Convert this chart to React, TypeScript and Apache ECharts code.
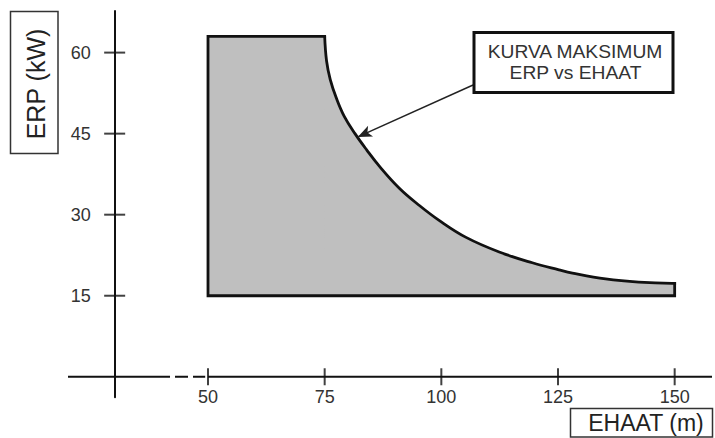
import { useEffect, useRef } from "react";
import * as echarts from "echarts";

// Axis ticks
const xTicks = [50, 75, 100, 125, 150];
const yTicks = [15, 30, 45, 60];

// Permitted region: flat shelf 50–75 m at 63 kW, then the maximum curve, floor at 15 kW
const shelfEhaat = [50, 75];
const shelfErp = 63;
const floorErp = 15;
const curveEhaat = [75, 75.4, 76.2, 77.5, 79.2, 81.5, 84, 86.8, 91, 95.3, 99.6, 105.3, 112.4, 119.5, 125.2, 128.1, 135.2, 142.3, 149.4, 150];
const curveErp = [63, 58.5, 55.0, 51.6, 48.2, 45.0, 42.0, 38.9, 34.9, 31.7, 28.9, 25.8, 23.1, 21.1, 19.8, 19.2, 18.1, 17.5, 17.3, 17.3];

// Axis extents and crossing
const xRange = [20, 158];
const yRange = [-3.8, 67.7];
const yAxisCross = 30; // y axis drawn at EHAAT = 30
const xAxisCross = 0; // x axis drawn at ERP = 0
const xBreakSolidEnd = 41.86;
const xBreakDash = [42.93, 49.4];

// Callout arrow: from box corner to curve
const arrowFrom = [106.8, 54.0];
const arrowTo = [82.1, 44.4];

const W = 715;
const H = 438;
const gridLeft = 68;
const gridRight = 3;
const gridTop = 11;
const gridBottom = 40.7;

const FONT = "'Liberation Sans', Arial, Helvetica, sans-serif";
const FILL = "#bfbfbf";
const EDGE = "#111";
const EDGE_W = 2.8;

export default function App() {
  const ref = useRef<HTMLDivElement>(null);

  useEffect(() => {
    if (!ref.current) return;
    const chart = echarts.init(ref.current, undefined, { renderer: "svg" });

    const pxPerX = (W - gridLeft - gridRight) / (xRange[1] - xRange[0]);
    const pxPerY = (H - gridTop - gridBottom) / (yRange[1] - yRange[0]);
    const yOffset = -(yAxisCross - xRange[0]) * pxPerX;
    const xOffset = -(xAxisCross - yRange[0]) * pxPerY;

    const lastCurve = curveEhaat.length - 1;
    const fillPts = [
      [shelfEhaat[0], floorErp],
      [shelfEhaat[0], shelfErp],
      [shelfEhaat[1], shelfErp],
      [curveEhaat[1], curveErp[1]],
      [curveEhaat[1], floorErp],
    ];
    const outlinePts = [
      [shelfEhaat[1], shelfErp],
      [shelfEhaat[0], shelfErp],
      [shelfEhaat[0], floorErp],
      [curveEhaat[lastCurve], floorErp],
      [curveEhaat[lastCurve], curveErp[lastCurve]],
    ];

    const axisColor = "#111";

    chart.setOption({
      animation: false,
      backgroundColor: "#ffffff",
      grid: { left: gridLeft, right: gridRight, top: gridTop, bottom: gridBottom },
      xAxis: {
        type: "value",
        min: xRange[0],
        max: xRange[1],
        position: "bottom",
        offset: xOffset,
        axisLine: { show: false, onZero: false },
        axisTick: { show: false },
        splitLine: { show: false },
        axisLabel: {
          customValues: xTicks,
          margin: 11,
          fontSize: 18,
          fontFamily: FONT,
          color: "#333",
        },
      },
      yAxis: {
        type: "value",
        min: yRange[0],
        max: yRange[1],
        position: "left",
        offset: yOffset,
        axisLine: { show: true, onZero: false, lineStyle: { color: axisColor, width: 2 } },
        axisTick: { show: false },
        splitLine: { show: false },
        axisLabel: {
          customValues: yTicks,
          margin: 24,
          fontSize: 18,
          fontFamily: FONT,
          color: "#333",
        },
      },
      series: [
        {
          type: "custom",
          name: "shelf-fill",
          data: [[shelfEhaat[0], shelfErp]],
          z: 1,
          silent: true,
          renderItem: (_p: any, api: any) => ({
            type: "polygon",
            shape: { points: fillPts.map((p) => api.coord(p)) },
            style: { fill: FILL },
          }),
        },
        {
          type: "line",
          name: "curve",
          data: curveEhaat.map((x, i) => [x, curveErp[i]]),
          smooth: 0.4,
          symbol: "none",
          z: 2,
          silent: true,
          lineStyle: { color: EDGE, width: EDGE_W, cap: "square" },
          areaStyle: { color: FILL, opacity: 1, origin: floorErp },
        },
        {
          type: "custom",
          name: "outline",
          data: [[shelfEhaat[0], floorErp]],
          z: 3,
          silent: true,
          renderItem: (_p: any, api: any) => ({
            type: "polyline",
            shape: { points: outlinePts.map((p) => api.coord(p)) },
            style: { fill: "none", stroke: EDGE, lineWidth: EDGE_W, lineJoin: "miter", lineCap: "square" },
          }),
        },
        {
          type: "line",
          name: "xaxis-left",
          data: [[xRange[0], xAxisCross], [xBreakSolidEnd, xAxisCross]],
          symbol: "none",
          lineStyle: { color: axisColor, width: 2 },
          silent: true,
          z: 3,
        },
        {
          type: "line",
          name: "xaxis-break",
          data: [[xBreakDash[0], xAxisCross], [xBreakDash[1], xAxisCross]],
          symbol: "none",
          lineStyle: { color: axisColor, width: 2, type: [13, 5] },
          silent: true,
          z: 3,
        },
        {
          type: "line",
          name: "xaxis-right",
          data: [[xTicks[0], xAxisCross], [xRange[1], xAxisCross]],
          symbol: "none",
          lineStyle: { color: axisColor, width: 2 },
          silent: true,
          z: 3,
          markLine: {
            silent: true,
            symbol: ["none", "arrow"],
            symbolSize: [9, 14],
            label: { show: false },
            lineStyle: { color: "#222", width: 1.5, type: "solid" },
            data: [[{ coord: arrowFrom }, { coord: arrowTo }]],
          },
        },
        {
          type: "scatter",
          name: "xticks",
          data: xTicks.map((v) => [v, xAxisCross]),
          symbol: "rect",
          symbolSize: [2, 17],
          itemStyle: { color: axisColor },
          silent: true,
          z: 4,
        },
        {
          type: "scatter",
          name: "yticks",
          data: yTicks.map((v) => [yAxisCross, v]),
          symbol: "rect",
          symbolSize: [21, 2],
          itemStyle: { color: axisColor },
          silent: true,
          z: 4,
        },
      ],
      graphic: [
        {
          type: "rect",
          shape: { x: 10.5, y: 11.5, width: 47.5, height: 142 },
          style: { fill: "none", stroke: "#333", lineWidth: 1.5 },
        },
        {
          type: "text",
          x: 35.5,
          y: 84,
          rotation: Math.PI / 2,
          style: {
            text: "ERP (kW)",
            font: `25px ${FONT}`,
            fill: "#222",
            align: "center",
            verticalAlign: "middle",
          },
        },
        {
          type: "rect",
          shape: { x: 570.5, y: 408.5, width: 142, height: 28.5 },
          style: { fill: "#fff", stroke: "#333", lineWidth: 1.5 },
        },
        {
          type: "text",
          x: 646,
          y: 422.5,
          style: {
            text: "EHAAT (m)",
            font: `23px ${FONT}`,
            fill: "#222",
            align: "center",
            verticalAlign: "middle",
          },
        },
        {
          type: "rect",
          shape: { x: 474, y: 32.5, width: 199, height: 60 },
          style: { fill: "#fff", stroke: "#111", lineWidth: 3 },
          z: 10,
        },
        {
          type: "text",
          x: 575,
          y: 51.5,
          scaleX: 1.07,
          z: 11,
          style: {
            text: "KURVA MAKSIMUM",
            font: `18px ${FONT}`,
            fill: "#333",
            align: "center",
            verticalAlign: "middle",
          },
        },
        {
          type: "text",
          x: 575.5,
          y: 72.5,
          scaleX: 1.07,
          z: 11,
          style: {
            text: "ERP vs EHAAT",
            font: `18px ${FONT}`,
            fill: "#333",
            align: "center",
            verticalAlign: "middle",
          },
        },
      ],
    });

    return () => {
      chart.dispose();
    };
  }, []);

  return (
    <div
      ref={ref}
      style={{ position: "absolute", left: 0, top: 0, width: W, height: H }}
    />
  );
}
